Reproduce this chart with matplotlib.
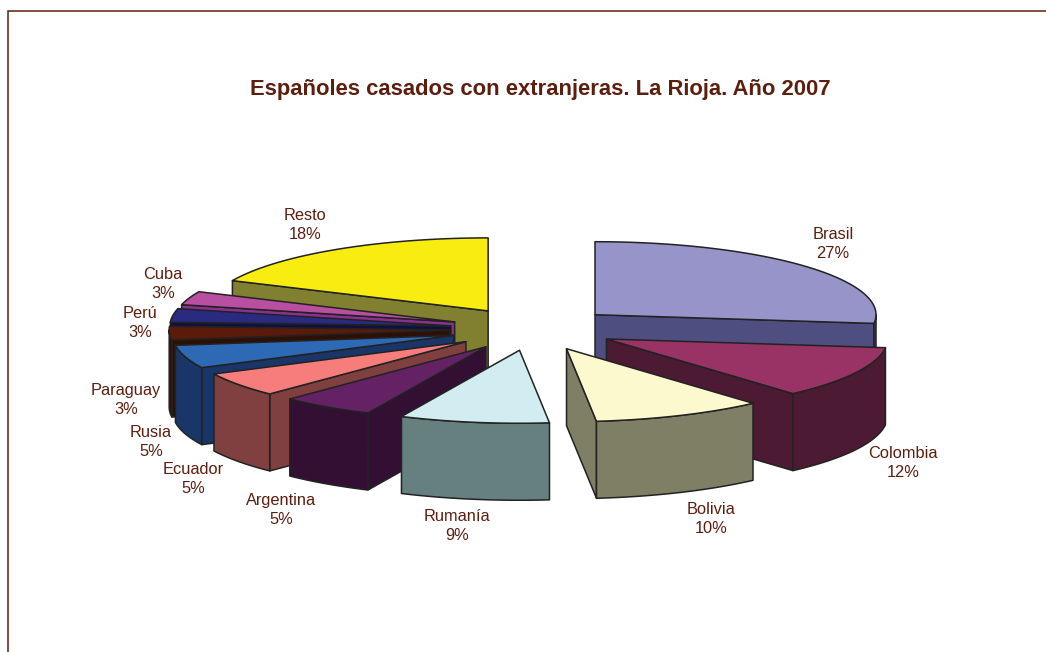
import numpy as np
import matplotlib
matplotlib.use("Agg")
import matplotlib.pyplot as plt
from matplotlib.patches import Polygon

plt.rcParams['font.family'] = ['Liberation Sans', 'DejaVu Sans']

categories = ["Brasil", "Colombia", "Bolivia", "Rumanía", "Argentina", "Ecuador",
              "Rusia", "Paraguay", "Perú", "Cuba", "Resto"]
values = [26.9, 11.55, 9.85, 8.6, 5.4, 5.4, 5.1, 3.0, 3.0, 3.0, 18.2]
top_colors = ["#9694c8", "#993366", "#fdf9cf", "#d2edf2", "#642264", "#f77c7c",
              "#2e69b5", "#5c1a0a", "#2a2a80", "#b84fa0", "#f8ec10"]
side_colors = ["#4f4e80", "#4d1a33", "#7f7f66", "#667f7f", "#330f33", "#804040",
               "#1a3668", "#2e0f05", "#101040", "#8a3090", "#808030"]
label_xy = [(833, 244), (903, 463), (711, 519), (457, 526), (281, 510), (193, 479),
            (151, 442), (126, 400), (140, 323), (163, 284), (305, 225)]
draw_order = ["Brasil", "Resto", "Cuba", "Perú", "Paraguay", "Rusia", "Ecuador",
              "Argentina", "Rumanía", "Colombia", "Bolivia"]

CX, CY, RX, RY, DEPTH, EXPLODE = 533, 329, 281, 73, 77, 0.295
INK = "#222222"
TEXT = "#5c1e0e"

fig = plt.figure(figsize=(10.46, 6.52), dpi=100)
ax = fig.add_axes([0, 0, 1, 1])
ax.set_xlim(0, 1046)
ax.set_ylim(652, 0)
ax.axis("off")

ax.plot([7.5, 7.5, 1046], [652, 11, 11], color="#5c1e0e", lw=1.1, solid_joinstyle="miter")


def pt(apex, th, down=0.0):
    return (apex[0] + RX * np.sin(th), apex[1] - RY * np.cos(th) + down)


def face(points, color):
    ax.add_patch(Polygon(points, closed=True, facecolor=color, edgecolor=INK,
                         lw=1.1, joinstyle="round"))


edges = np.radians(np.concatenate([[0], np.cumsum(values)]) * 3.6)
for name in draw_order:
    i = categories.index(name)
    a, b = edges[i], edges[i + 1]
    mid = (a + b) / 2
    apex = (CX + EXPLODE * RX * np.sin(mid), CY - EXPLODE * RY * np.cos(mid))
    # radial side faces
    if np.sin(a) < 0:
        p = pt(apex, a)
        face([apex, p, (p[0], p[1] + DEPTH), (apex[0], apex[1] + DEPTH)], side_colors[i])
    if np.sin(b) > 0:
        p = pt(apex, b)
        face([apex, p, (p[0], p[1] + DEPTH), (apex[0], apex[1] + DEPTH)], side_colors[i])
    # outer rim (only where it faces the viewer)
    lo, hi = max(a, np.pi / 2), min(b, 3 * np.pi / 2)
    if hi > lo:
        ts = np.linspace(lo, hi, 60)
        upper = [pt(apex, t) for t in ts]
        lower = [pt(apex, t, DEPTH) for t in ts[::-1]]
        face(upper + lower, side_colors[i])
    # top
    ts = np.linspace(a, b, 80)
    face([apex] + [pt(apex, t) for t in ts], top_colors[i])

for name, v, (x, y) in zip(categories, values, label_xy):
    ax.text(x, y, f"{name}\n{v:.0f}%", ha="center", va="center", color=TEXT,
            fontsize=11.8, linespacing=1.38)

ax.text(540, 90, "Españoles casados con extranjeras. La Rioja. Año 2007", ha="center",
        va="center", color=TEXT, fontsize=15.8, fontweight="bold")

fig.savefig("out.png", dpi=100)
